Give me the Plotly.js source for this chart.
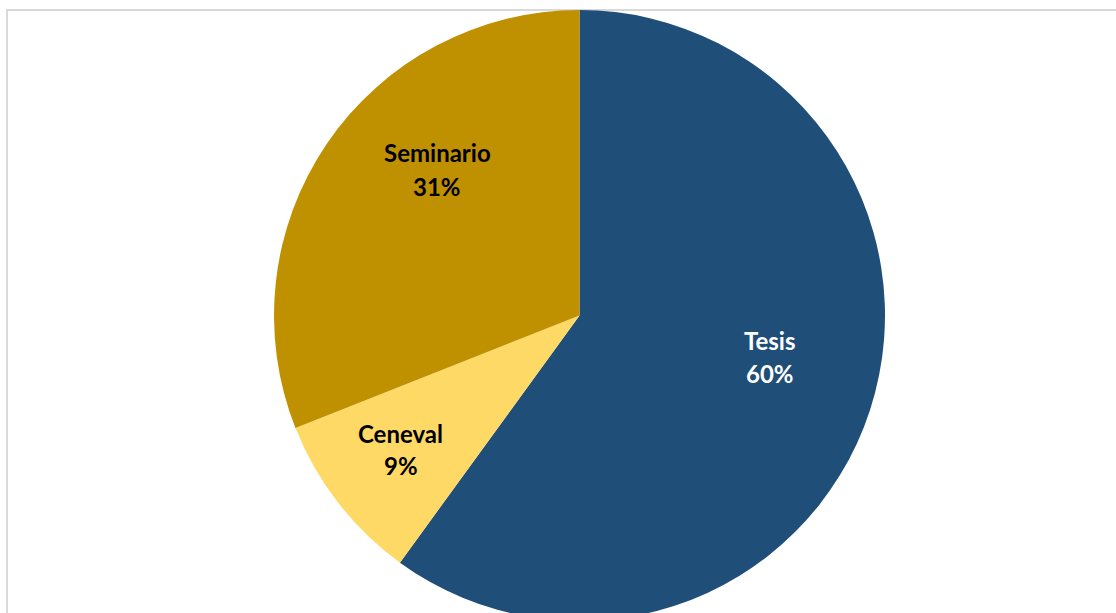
<!DOCTYPE html>
<html>
<head>
<meta charset="utf-8">
<script src="https://cdn.plot.ly/plotly-3.0.1.min.js"></script>
<style>
html, body { margin:0; padding:0; overflow:hidden; background:#fff; width:1116px; height:613px; }
#frame { position:absolute; left:6px; top:9px; width:1200px; height:700px; border:2px solid #D9D9D9; box-sizing:border-box; }
#chart { position:absolute; left:0; top:0; width:1116px; height:631px; }
</style>
</head>
<body>
<div id="frame"></div>
<div id="chart"></div>
<script>
const categories = ["Tesis", "Ceneval", "Seminario"];
const values = [60, 9, 31];

// styling (kept apart from the data)
const colors = ["#1F4E79", "#FFD966", "#BF9000"];
const textColors = ["#FFFFFF", "#000000", "#000000"];
// label anchor points in paper coordinates (name line, percent line)
const labelX = [0.6775, 0.3336, 0.3672];
const labelY1 = [0.4583, 0.3061, 0.7660];
const labelY2 = [0.4043, 0.2537, 0.7119];

const total = values.reduce((a, b) => a + b, 0);

const trace = {
  type: "pie",
  labels: categories,
  values: values,
  sort: false,
  direction: "clockwise",
  rotation: 0,
  marker: { colors: colors, line: { width: 0 } },
  textinfo: "none",
  hoverinfo: "label+percent",
  showlegend: false
};

const font = (i) => ({ family: "Lato, 'Open Sans', sans-serif", size: 24, color: textColors[i] });
const annotations = [];
categories.forEach((c, i) => {
  annotations.push({ xref: "paper", yref: "paper", x: labelX[i], y: labelY1[i], text: "<b>" + c + "</b>",
    showarrow: false, xanchor: "center", yanchor: "middle", font: font(i) });
  annotations.push({ xref: "paper", yref: "paper", x: labelX[i], y: labelY2[i],
    text: "<b>" + Math.round(values[i] / total * 100) + "%</b>",
    showarrow: false, xanchor: "center", yanchor: "middle", font: font(i) });
});

const layout = {
  width: 1116,
  height: 631,
  margin: { l: 43, r: 0, t: 10, b: 10 },
  paper_bgcolor: "rgba(0,0,0,0)",
  plot_bgcolor: "rgba(0,0,0,0)",
  showlegend: false,
  annotations: annotations
};

Plotly.newPlot("chart", [trace], layout, { displayModeBar: false, staticPlot: true });
</script>
</body>
</html>
